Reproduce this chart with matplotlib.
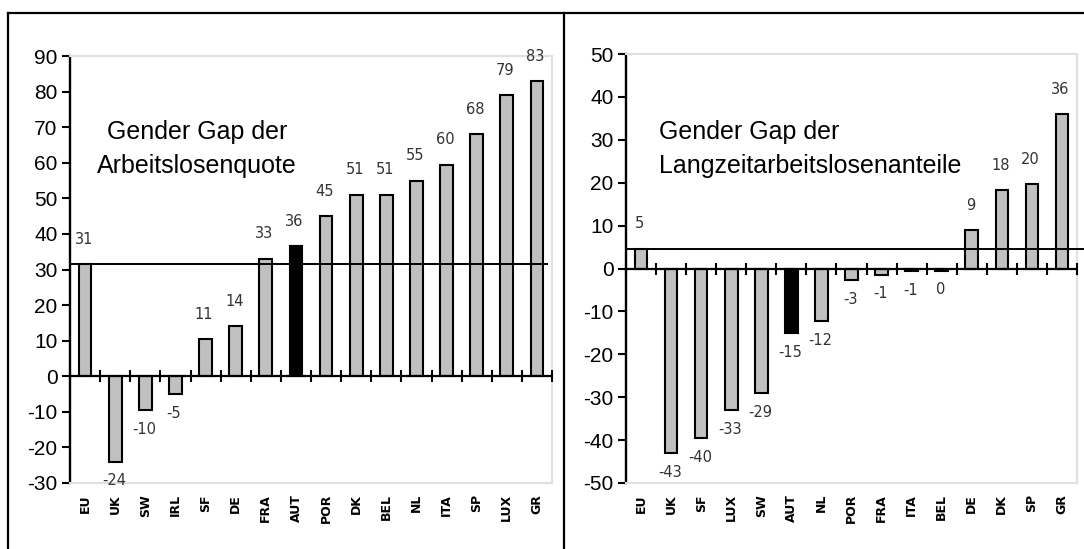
import numpy as np
import matplotlib
matplotlib.use("Agg")
import matplotlib.pyplot as plt
from matplotlib.lines import Line2D

plt.rcParams['font.family'] = ['Liberation Sans', 'DejaVu Sans']
plt.rcParams['axes.unicode_minus'] = False

# left panel: Gender Gap der Arbeitslosenquote
left_countries = ['EU', 'UK', 'SW', 'IRL', 'SF', 'DE', 'FRA', 'AUT', 'POR',
                  'DK', 'BEL', 'NL', 'ITA', 'SP', 'LUX', 'GR']
left_values = [31.5, -24, -9.5, -5, 10.5, 14, 33, 36.5, 45,
               51, 51, 55, 59.5, 68, 79, 83]
left_labels = ['31', '-24', '-10', '-5', '11', '14', '33', '36', '45',
               '51', '51', '55', '60', '68', '79', '83']
left_ref = 31.5

# right panel: Gender Gap der Langzeitarbeitslosenanteile
right_countries = ['EU', 'UK', 'SF', 'LUX', 'SW', 'AUT', 'NL', 'POR', 'FRA',
                   'ITA', 'BEL', 'DE', 'DK', 'SP', 'GR']
right_values = [4.6, -43, -39.5, -33, -29, -15, -12.3, -2.7, -1.4,
                -0.6, -0.5, 9, 18.2, 19.7, 36]
right_labels = ['5', '-43', '-40', '-33', '-29', '-15', '-12', '-3', '-1',
                '-1', '0', '9', '18', '20', '36']
right_ref = 4.6

highlight = 'AUT'


def draw_panel(ax, countries, values, labels, ref, ylim, yticks, title_lines,
               title_x, title_ys, title_ha, ref_xmax):
    x = np.arange(len(countries))
    colors = ['black' if c == highlight else '#c0c0c0' for c in countries]
    ax.bar(x, values, width=0.42, color=colors, edgecolor='black',
           linewidth=1.5, zorder=2)
    ax.set_xlim(-0.5, len(countries) - 0.5)
    ax.set_ylim(*ylim)
    ax.set_yticks(yticks)

    # value labels above / below the bars
    for xi, v, lab in zip(x, values, labels):
        if v >= 0:
            ax.annotate(lab, (xi, v), xytext=(-1, 12.5), textcoords='offset points',
                        ha='center', va='bottom', fontsize=10.5, color='#333333',
                        family='DejaVu Sans', annotation_clip=False)
        else:
            ax.annotate(lab, (xi, v), xytext=(-1, -8.5), textcoords='offset points',
                        ha='center', va='top', fontsize=10.5, color='#333333',
                        family='DejaVu Sans', annotation_clip=False)

    # zero line with ticks between categories
    ax.axhline(0, color='black', lw=1.6, zorder=3)
    bounds = np.arange(len(countries) + 1) - 0.5
    ax.plot(bounds, np.zeros_like(bounds), ls='none', marker='|', ms=8,
            mew=1.5, color='black', zorder=3, clip_on=False)

    # reference line (EU value)
    ax.axhline(ref, xmin=0, xmax=ref_xmax, color='black', lw=1.4, zorder=4,
               clip_on=False)

    for s in ['top', 'right', 'bottom']:
        ax.spines[s].set_color('#e0e0e0')
        ax.spines[s].set_linewidth(1.5)
    ax.spines['left'].set_linewidth(1.7)
    ax.tick_params(axis='y', direction='out', length=6, width=1.5,
                   labelsize=15, pad=3)

    ax.set_xticks(x)
    ax.set_xticklabels(countries, rotation=90, fontsize=9, fontweight='bold',
                       family='DejaVu Sans', va='top')
    ax.tick_params(axis='x', length=0, pad=8)

    for line, yy in zip(title_lines, title_ys):
        ax.text(title_x, yy, line, transform=ax.transAxes, ha=title_ha,
                va='baseline', fontsize=18)


fig = plt.figure(figsize=(10.84, 5.49), dpi=100)

ax1 = fig.add_axes([70 / 1084, 1 - 483 / 549, 482 / 1084, 427 / 549])
draw_panel(ax1, left_countries, left_values, left_labels, left_ref,
           (-30, 90), np.arange(-30, 91, 10),
           ['Gender Gap der', 'Arbeitslosenquote'], 0.263, [0.805, 0.727],
           'center', 0.99)

ax2 = fig.add_axes([626 / 1084, 1 - 483 / 549, 451 / 1084, 429 / 549])
draw_panel(ax2, right_countries, right_values, right_labels, right_ref,
           (-50, 50), np.arange(-50, 51, 10),
           ['Gender Gap der', 'Langzeitarbeitslosenanteile'], 0.073, [0.801, 0.723],
           'left', 1.013)

# outer frame lines
top = 1 - 13 / 549
fig.add_artist(Line2D([8 / 1084, 1], [top, top], color='black', lw=1.6))
fig.add_artist(Line2D([8 / 1084] * 2, [0, top], color='black', lw=1.6))
fig.add_artist(Line2D([564 / 1084] * 2, [0, top], color='black', lw=1.6))

fig.savefig('out.png', dpi=100)
